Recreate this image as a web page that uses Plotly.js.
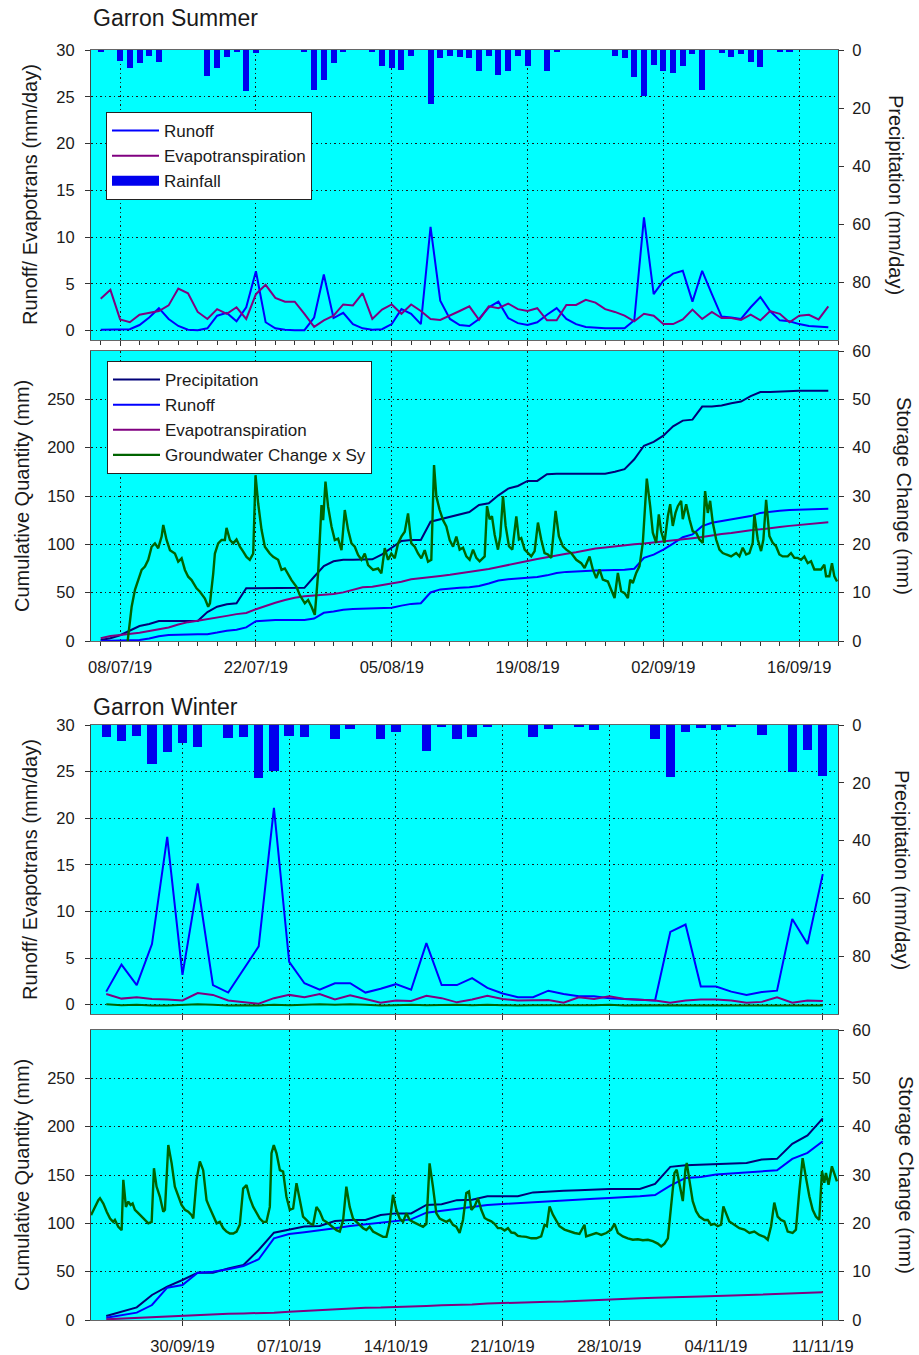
<!DOCTYPE html>
<html><head><meta charset="utf-8">
<script src="https://cdn.plot.ly/plotly-3.0.1.min.js"></script>
<style>html,body{margin:0;padding:0;background:#fff}#chart{width:919px;height:1355px}</style>
</head><body><div id="chart"></div>
<script>
// ---------------- SUMMER (daily values, first day 2019-07-06) ----------------
const summerFirstDay = '2019-07-06';
const summerRunoff = [0.1,0.1,0.1,0.15,0.6,1.4,2.4,1.25,0.5,0.1, 0.05,0.25,1.6,1.9,1.0,2.5,6.35,0.9,0.25,0.1, 0.05,0.05,1.4,6.0,1.35,1.9,0.7,0.25,0.1,0.15, 0.7,2.3,1.8,0.7,11.1,3.2,1.25,0.6,0.5,1.25, 2.5,3.1,1.35,0.8,0.6,0.9,1.7,2.4,1.25,0.7, 0.4,0.3,0.25,0.25,0.25,1.1,12.1,3.9,5.35,6.1, 6.4,3.1,6.4,3.9,1.5,1.4,1.25,2.5,3.6,2.1, 1.1,1.0,0.7,0.5,0.4,0.35];
const summerET = [3.4,4.36,1.2,0.9,1.7,1.9,2.1,2.7,4.5,4.0, 2.0,1.25,2.3,1.8,2.5,1.25,3.9,4.9,3.5,3.1, 3.1,1.8,0.4,1.1,1.6,2.8,2.7,4.0,1.25,2.25, 2.8,1.8,2.8,2.1,1.25,1.15,1.6,2.1,2.6,1.15, 2.6,2.4,2.9,2.3,2.1,2.4,1.1,1.1,2.75,2.75, 3.3,3.0,2.3,2.0,1.6,1.0,1.8,1.6,0.7,0.7, 1.2,2.25,1.25,2.0,1.35,1.35,1.15,1.7,1.1,2.1, 1.8,0.9,1.6,1.7,1.2,2.6];
const summerRain = [0.8,0,3.8,6.1,4.6,1.9,4.2,0,0,0, 0,8.8,6.3,2.5,0.8,14.3,0.9,0,0,0, 0,0.6,13.9,10.3,4.6,0.8,0,0,0.8,5.4, 6.1,6.9,2.1,0,18.6,2.9,2.1,2.5,2.6,7.1, 1.9,8.6,7.1,1.9,5.4,0,7.2,0.8,0,0, 0,0,0,1.9,2.6,9.4,16.0,5.1,7.2,8.0, 5.4,1.4,13.7,0,0.9,2.3,1.4,4.2,5.9,0, 0.8,0.8,0,0,0,0];
const summerCumPrecip = [1,2.8,6,11,15.5,17.6,20.7,20.7,20.7,20.7, 20.7,30,35.5,38,39,54.5,54.5,54.5,54.5,54.5, 54.5,55,66.5,77.6,82.5,84,84,84,84.5,89.7, 97,103.5,104.5,104.5,123.4,126,128,131,133.4,140.7, 142.4,150.7,157.7,160.4,165.6,165.6,172.5,173,173,173, 173,173,173,175,177.8,188,202,206,212.4,222, 228,229,242.5,242.5,243.6,246,247.7,253.3,257.5,257.5, 258,259,259,259,259,259];
const summerCumRunoff = [0.1,0.2,0.3,0.5,1.1,2.5,4.9,6.2,6.7,6.8, 6.9,7.1,8.7,10.6,11.6,14.1,20.5,21.4,21.6,21.7, 21.8,21.8,23.2,29.2,30.5,32.4,33.1,33.4,33.5,33.6, 34.3,36.6,38.4,39.1,50.2,53.4,54.6,55.2,55.6,56.9, 59.4,62.5,63.9,64.7,65.3,66.2,67.9,70.3,71.5,72.2, 72.6,72.9,73.2,73.4,73.7,74.8,86,89.4,94.6,100.8, 107.4,110.2,118.8,122.3,124,125.8,126.8,129.2,132.5,133.8, 134.8,135.5,136,136.4,136.7,136.9];
const summerCumET = [2.8,5.2,6.2,7.2,8.6,10.3,12,14,17,19.5, 21,22.5,24.5,26,27.8,29,32.8,36.5,39.5,42.4, 44.8,46.2,46.8,47.6,48.6,50.3,52.8,55.5,56.2,57.9, 59.7,61.4,63.8,65.2,66.4,67.3,68.5,70,71,73.2, 74.6,76.5,78.8,80.8,82.8,84.8,86.8,88.9,90.3,91.8, 93.8,95.6,96.8,98.1,99.1,100.2,100.8,101.8,102.9,104.5, 105.3,106.4,107.7,109.3,110.6,111.7,113.4,114.6,115.5,117, 118,119.1,120,121.2,122,122.8];
// groundwater change x Sy: time in days since 2019-07-05 00:00, value in mm
const summerGwBase = '2019-07-05';
const summerGwDays = [3.78,4.19,4.53,4.87,5.22,5.56,5.90,6.25,6.59,6.93,7.28,7.45,7.79,8.14,8.65,8.99,9.34,9.68,10.02,10.37,10.88,11.23,11.74,12.08,12.26,12.60,12.77,13.11,13.46,13.80,13.97,14.32,14.66,15.00,15.35,15.69,16.03,16.37,16.72,16.96,17.23,17.58,17.92,18.43,18.78,19.29,19.64,19.98,20.32,20.67,21.18,21.52,22.04,22.38,22.73,23.07,23.41,23.76,23.93,24.17,24.44,24.79,25.13,25.47,25.82,26.16,26.50,26.85,27.19,27.53,27.88,28.22,28.56,29.08,29.59,29.93,30.28,30.62,30.96,31.31,31.65,31.99,32.34,32.68,33.02,33.37,33.71,34.05,34.40,34.74,35.08,35.36,35.60,35.94,36.29,36.63,36.97,37.32,37.66,
 38.00,38.35,38.69,39.03,39.38,39.72,40.06,40.58,40.82,41.09,41.33,41.61,41.95,42.19,42.47,42.74,43.08,43.43,43.84,44.11,44.35,44.70,45.04,45.38,45.73,46.07,46.41,46.75,47.10,47.44,47.89,48.23,48.64,48.99,49.50,50.02,50.53,50.88,51.39,51.73,52.08,52.42,52.76,53.28,53.62,53.97,54.31,54.65,55.00,55.34,55.58,55.85,56.20,56.54,56.88,57.05,57.29,57.64,57.91,58.26,58.53,58.77,59.11,59.46,59.70,59.97,60.25,60.49,60.83,61.00,61.35,61.69,62.03,62.38,62.72,63.06,63.30,63.58,63.82,64.09,64.44,64.78,65.12,65.47,65.98,66.50,66.84,67.18,67.53,67.87,68.21,68.38,68.73,69.07,69.31,69.59,69.93,70.27,70.61,70.96,71.30,71.82,72.16,72.50,72.85,73.19,73.53,73.88,74.22,74.56,74.91,75.25,75.59,75.77,76.11,76.38,76.62,76.90];
const summerGw = [0,7.1,10.6,12.6,14.7,15.4,16.8,19.5,20.2,19.2,21.6,24.0,20.9,18.8,18.1,16.4,17.1,14.7,13.3,12.6,10.9,10.2,8.8,7.1,7.8,14,18.1,20.2,20.9,20.9,23.4,20.9,20.2,21.0,19.5,18.5,17.4,16.8,18.1,34.3,28.5,23.0,19.5,18.1,17.4,16.8,14.7,15.0,13.7,12.6,11.2,9.5,7.8,8.5,7.1,5.4,14,28.1,25.0,33.0,27.8,23.7,20.9,21.2,18.8,27.1,23.0,20.2,19.5,17.8,16.8,18.1,15.7,14.7,15.0,14.0,19.2,16.8,18.1,17.1,20.2,21.6,22.6,26.4,20.2,19.5,18.1,17.1,18.8,16.4,16.8,36.4,29.9,27.1,25.0,23.7,20.9,19.5,21.6,
 18.9,19.3,17.5,16.8,18.9,17.2,16.5,17.5,27.9,25.2,25.8,22.0,18.9,21.7,30.0,23.8,19.6,18.9,25.8,21.0,21.3,18.9,18.2,17.5,18.6,24.5,21.0,18.2,17.9,17.2,26.9,21.7,19.6,18.9,18.2,16.8,16.1,15.1,17.5,14.8,13.0,14.8,12.7,12.3,10.6,8.9,14.1,10.3,9.9,8.9,12.7,12.0,14.1,15.5,20.3,25.8,33.6,27.9,22.4,20.3,26.2,22.7,20.3,25.8,28.3,23.8,26.5,27.9,29.0,25.2,28.3,25.2,22.7,22.4,21.0,20.3,31.0,26.5,29.0,24.5,21.0,18.9,18.2,17.9,17.5,18.2,17.5,19.3,17.9,18.2,20.3,26.2,21.0,18.6,21.0,29.2,21.7,20.3,19.6,17.9,17.5,17.5,18.2,17.2,17.2,16.8,17.5,16.1,16.5,14.8,14.8,14.8,15.8,13.4,13.4,16.1,13.4,12.3];

// ---------------- WINTER (daily values, first day 2019-09-25) ----------------
const winterFirstDay = '2019-09-25';
const winterRunoff = [1.4,4.3,2.1,6.5,18.0,3.2,13.0,2.1,1.3,3.75, 6.25,21.1,4.6,2.3,1.6,2.3,2.3,1.3,1.7,2.2, 1.6,6.6,2.1,2.1,2.85,1.8,1.2,0.8,0.8,1.5, 1.15,0.9,0.9,0.7,0.6,0.55,0.45,7.8,8.6,1.95, 1.95,1.4,1.05,1.35,1.5,9.2,6.5,14.0];
const winterET = [1.15,0.65,0.8,0.6,0.55,0.45,1.25,1.05,0.45,0.3, 0.1,0.7,1.05,0.8,1.15,0.55,1.0,0.6,0.2,0.45, 0.4,0.95,0.7,0.25,0.55,0.95,0.6,0.45,0.45,0.5, 0.2,0.8,0.6,0.9,0.6,0.55,0.45,0.2,0.45,0.55, 0.55,0.45,0.2,0.3,0.8,0.2,0.45,0.4];
const winterGwDaily = [0.05,-0.05,0,-0.1,-0.1,0,0.05,0,-0.1,-0.05, -0.1,0,-0.05,0,0.05,0,0.05,0,-0.1,-0.05, 0,-0.05,0,0,-0.05,0,-0.05,-0.1,-0.05,-0.05, -0.1,-0.05,-0.05,0,-0.1,-0.05,-0.05,-0.1,-0.1,-0.05, -0.05,-0.05,-0.05,-0.05,-0.05,-0.1,-0.1,-0.1];
const winterRain = [4.0,5.7,3.8,13.4,9.5,6.3,7.7,0,4.6,4.2, 18.3,16.0,3.7,4.0,0,4.9,1.5,0,4.9,2.3, 0,9.1,0.6,4.9,4.0,0.6,0,0,4.2,1.4, 0,0.8,1.7,0,0,0,4.9,18.1,2.5,1.1, 1.7,0.6,0,3.4,0,16.3,8.6,17.5];
const winterCumPrecip = [4.1,8.6,13.1,25.9,34.5,41.4,49,49,53.4,56.9, 72.4,90.3,93.8,96.6,97.2,102.4,103.4,103.4,108.6,110.3, 110.3,119,119.7,124,124.5,128,128,128,132,133, 133.8,134.2,134.9,135.5,135.5,135.5,140.7,158.4,160.1,160.8, 161.8,162.5,162.5,166,166.7,182.2,190.9,208.5];
const winterCumRunoff = [2.4,5.2,7.6,15.5,33.4,36.2,49,50,52.4,55.9, 62.8,84.5,89,90.7,92.4,94.8,97.2,99,100.7,102.4, 104.1,111,113.1,115.5,117.6,119,120,121,121.7,122.8, 123.4,124.5,125.5,126.2,126.9,128,129.3,139,147,148, 150.4,151.5,152.1,153.2,154.9,166.7,172.9,185];
const winterCumET = [0.7,1.5,2.2,2.9,3.4,4.0,5.0,6.0,6.5,6.8, 7.0,7.6,8.6,9.4,10.5,11.1,12.1,12.7,12.9,13.3, 13.7,14.6,15.3,15.5,16.1,17.0,17.6,18.1,18.5,19.0, 19.2,20.0,20.6,21.5,22.1,22.6,23.1,23.3,23.7,24.3, 24.8,25.3,25.5,26.2,27.0,27.4,28.0,28.6];
const winterGwBase = '2019-09-24';
const winterGwDays = [0,0.26,0.48,0.59,0.81,1.03,1.25,1.46,1.57,1.79,2.01,2.12,2.29,2.45,2.60,2.73,2.88,3.10,3.32,3.54,3.76,3.98,4.13,4.30,4.52,4.74,4.85,5.07,5.29,5.50,5.72,5.94,6.16,6.38,6.60,6.71,6.92,7.14,7.36,7.58,7.80,8.02,8.24,8.45,8.67,8.89,9.11,9.33,9.55,9.76,9.98,10.20,10.42,10.64,10.86,11.07,11.29,11.51,11.73,11.84,11.99,12.17,12.39,12.60,12.82,13.04,13.26,13.48,13.70,13.91,14.13,14.35,14.57,14.79,15.01,15.23,15.44,15.66,15.88,16.10,16.32,16.54,16.75,16.97,17.19,17.41,17.63,17.85,18.06,18.28,18.50,18.72,18.94,19.16,19.38,19.59,19.81,20.03,20.25,20.47,20.69,20.90,21.12,21.34,21.56,21.78,22.00,22.21,22.43,22.65,22.87,23.09,23.31,23.53,23.74,23.96,
 24.18,24.40,24.62,24.79,24.95,25.16,25.38,25.60,25.82,26.04,26.26,26.47,26.69,26.91,27.13,27.35,27.57,27.79,28.00,28.22,28.55,28.88,29.21,29.53,29.75,29.90,30.08,30.30,30.52,30.73,31.06,31.39,31.72,32.04,32.37,32.48,32.81,33.14,33.47,33.80,34.12,34.34,34.56,34.89,35.21,35.54,35.87,36.20,36.53,36.85,37.18,37.40,37.62,37.84,38.05,38.27,38.42,38.60,38.82,38.99,39.08,39.25,39.47,39.69,39.91,40.24,40.46,40.67,40.89,41.11,41.33,41.48,41.66,41.87,42.20,42.53,42.86,43.19,43.51,43.84,44.17,44.39,44.61,44.82,45.04,45.26,45.48,45.70,46.02,46.24,46.46,46.68,46.90,47.12,47.34,47.55,47.77,47.95,48.10,48.21,48.38,48.60,48.75,48.93];
const winterGw = [21.7,23.4,24.8,25.2,24.1,22.4,21.0,20.3,20.7,19.3,18.6,29.0,23.4,24.5,23.8,24.1,22.8,22.1,21.4,20.7,20.0,20.3,31.4,27.6,25.5,22.4,22.8,36.2,32.4,27.6,25.5,23.8,22.8,22.4,21.7,21.0,29.0,32.8,31.0,24.8,23.1,21.7,20.0,20.3,19.0,18.3,17.9,17.9,18.3,19.7,27.2,27.9,25.2,23.4,22.1,21.0,20.3,20.3,23.4,34.5,36.2,34.5,31.0,30.7,25.5,22.8,23.1,28.3,24.8,21.4,20.7,20.0,19.7,23.4,22.4,20.7,20.3,19.7,19.3,18.6,18.3,20.7,27.6,23.4,21.0,20.3,19.7,19.0,18.6,19.3,18.3,17.9,17.6,17.2,17.2,20.0,25.9,22.8,21.0,20.3,22.1,20.7,20.3,20.0,19.7,19.3,19.9,32.4,27.6,22.1,21.0,20.7,20.3,20.7,19.7,19.3,
 18.0,20.7,26.3,26.6,22.8,23.5,25.2,22.8,21.1,20.7,20.4,19.9,19.0,19.0,18.5,19.0,18.1,18.0,17.4,17.3,17.2,16.9,16.9,17.3,19.7,19.4,23.5,21.8,20.4,19.4,18.7,18.3,18.0,17.8,19.7,17.3,17.6,18.0,17.6,18.0,18.7,19.9,18.0,17.3,16.9,16.6,16.7,16.5,16.6,16.3,15.8,15.2,15.8,16.9,23.5,30.4,31.1,28.4,24.6,31.1,32.5,29.0,24.6,22.5,21.4,20.7,20.7,19.7,19.9,19.4,19.7,23.5,22.1,20.4,19.7,19.0,18.7,18.0,18.3,17.6,17.2,16.6,19.4,24.3,21.4,20.7,20.4,18.3,18.0,18.7,26.6,33.5,29.4,25.6,22.8,21.4,20.7,30.8,28.4,30.4,28.0,31.8,30.4,28.7];

// ---------------- helpers ----------------
const DAY = 86400000;
function offsetDate(base, days) {
  const t = Date.parse(base + 'T00:00:00Z') + days * DAY;
  return new Date(Math.round(t / 60000) * 60000).toISOString().slice(0, 16).replace('T', ' ');
}
function dailyDates(first, n) { const a = []; for (let i = 0; i < n; i++) a.push(offsetDate(first, i)); return a; }
const sDates = dailyDates(summerFirstDay, summerRunoff.length);
const wDates = dailyDates(winterFirstDay, winterRunoff.length);
const sGwDates = summerGwDays.map(d => offsetDate(summerGwBase, d));
const wGwDates = winterGwDays.map(d => offsetDate(winterGwBase, d));

const C = {runoff:'#0000ff', et:'#800080', precip:'#000078', gw:'#006400', rain:'#0000ee', bg:'#00ffff'};
const FONT = 'Liberation Sans, Arial, sans-serif';
const TXT = '#1a1a1a';

function line(x, y, color, name, xa, ya, legend, show, w) {
  return {type:'scatter', mode:'lines', x, y, name, xaxis:xa, yaxis:ya, legend,
    showlegend:show, line:{color, width:w||2}, hoverinfo:'skip'};
}
function bars(x, y, name, xa, ya) {
  return {type:'bar', x, y, name, xaxis:xa, yaxis:ya, showlegend:false,
    width:0.62*DAY, marker:{color:C.rain, line:{width:0}}, hoverinfo:'skip'};
}
// legend-only key for the rainfall bars (drawn as a wide filled swatch like the original)
const rainKey = {type:'scatter', mode:'lines', x:[null], y:[null], name:'Rainfall', xaxis:'x', yaxis:'y2',
  legend:'legend', showlegend:true, line:{color:C.rain, width:12}, hoverinfo:'skip'};

const data = [
  line(sDates, summerRunoff, C.runoff, 'Runoff', 'x', 'y', 'legend', true),
  line(sDates, summerET, C.et, 'Evapotranspiration', 'x', 'y', 'legend', true),
  rainKey,
  bars(sDates, summerRain, 'Rainfall', 'x', 'y2'),
  line(sDates, summerCumPrecip, C.precip, 'Precipitation', 'x2', 'y3', 'legend2', true),
  line(sDates, summerCumRunoff, C.runoff, 'Runoff', 'x2', 'y3', 'legend2', true),
  line(sDates, summerCumET, C.et, 'Evapotranspiration', 'x2', 'y3', 'legend2', true),
  line(sGwDates, summerGw, C.gw, 'Groundwater Change x Sy', 'x2', 'y4', 'legend2', true, 2.4),
  line(wDates, winterRunoff, C.runoff, 'Runoff', 'x3', 'y5', 'legend', false),
  line(wDates, winterET, C.et, 'Evapotranspiration', 'x3', 'y5', 'legend', false),
  line(wDates, winterGwDaily, C.gw, 'Groundwater', 'x3', 'y5', 'legend', false),
  bars(wDates, winterRain, 'Rainfall', 'x3', 'y6'),
  line(wDates, winterCumPrecip, C.precip, 'Precipitation', 'x4', 'y7', 'legend', false),
  line(wDates, winterCumRunoff, C.runoff, 'Runoff', 'x4', 'y7', 'legend', false),
  line(wDates, winterCumET, C.et, 'Evapotranspiration', 'x4', 'y7', 'legend', false),
  line(wGwDates, winterGw, C.gw, 'Groundwater Change x Sy', 'x4', 'y8', 'legend', false, 2.4)
];

const tickfont = {family:FONT, size:16.5, color:TXT};
const GRID = {showgrid:true, gridcolor:'#1a1a1a', griddash:'1.5px,3px', gridwidth:1};
function xAxis(anchor, range, tick0, dtick, labels, minor, matches) {
  const a = Object.assign({type:'date', anchor, domain:[0,1], range, tick0, dtick:dtick*DAY,
    tickformat:'%d/%m/%y', showticklabels:labels, ticks:'outside', ticklen:5, tickcolor:'#333',
    tickfont, ticklabelstandoff:6,
    showline:true, mirror:true, linecolor:'#666', linewidth:1, zeroline:false, fixedrange:true}, GRID);
  if (minor) a.minor = {dtick:minor*DAY, tick0, ticks:'outside', ticklen:4, tickcolor:'#333', showgrid:false};
  if (matches) a.matches = matches;
  return a;
}
function yLeft(anchor, domain, range, tickvals) {
  return Object.assign({anchor, domain, range, tickvals, ticks:'outside', ticklen:5, tickcolor:'#333', tickfont,
    ticklabelstandoff:7,
    showline:true, linecolor:'#444', linewidth:1, zeroline:false, fixedrange:true}, GRID);
}
function yRight(anchor, overlaying, range, tickvals) {
  return {anchor, overlaying, side:'right', range, tickvals, ticks:'outside', ticklen:5, tickcolor:'#333', tickfont,
    ticklabelstandoff:5, showgrid:false, showline:true, linecolor:'#444', linewidth:1, zeroline:false, fixedrange:true};
}
const H = 1355, T = 50, B = 35, L = 91, R = 81;
const PH = H - T - B, PW = 919 - L - R;
const py = p => 1 - (p - T) / PH;   // pixel row -> paper y
const px = p => (p - L) / PW;       // pixel col -> paper x

const sumRange = ['2019-07-05', '2019-09-20'];
const winRange = ['2019-09-24', '2019-11-12'];

function ann(text, xp, yp, angle, size, xanchor) {
  return {text, x:px(xp), y:py(yp), xref:'paper', yref:'paper', showarrow:false, textangle:angle,
    xanchor:xanchor||'center', yanchor:'middle', font:{family:FONT, size, color:TXT}};
}
const legendStyle = {xanchor:'left', yanchor:'top', bgcolor:'#ffffff', bordercolor:'#222', borderwidth:1,
  font:{family:FONT, size:17, color:TXT}, itemwidth:47, tracegroupgap:0};

const layout = {
  width:919, height:H, margin:{l:L, r:R, t:T, b:B}, paper_bgcolor:'#ffffff', plot_bgcolor:C.bg,
  font:{family:FONT, color:TXT}, bargap:0, barmode:'overlay',
  xaxis: xAxis('y', sumRange, '2019-07-08', 14, false, 2),
  xaxis2: xAxis('y3', sumRange, '2019-07-08', 14, true, 2, 'x'),
  xaxis3: xAxis('y5', winRange, '2019-09-30', 7, false, 0),
  xaxis4: xAxis('y7', winRange, '2019-09-30', 7, true, 0, 'x3'),
  yaxis: yLeft('x', [py(340), py(50)], [-1, 30], [0,5,10,15,20,25,30]),
  yaxis2: yRight('x', 'y', [100, 0], [0,20,40,60,80]),
  yaxis3: yLeft('x2', [py(641), py(351)], [0, 300], [0,50,100,150,200,250]),
  yaxis4: yRight('x2', 'y3', [0, 60], [0,10,20,30,40,50,60]),
  yaxis5: yLeft('x3', [py(1014), py(725)], [-1, 30], [0,5,10,15,20,25,30]),
  yaxis6: yRight('x3', 'y5', [100, 0], [0,20,40,60,80]),
  yaxis7: yLeft('x4', [py(1320), py(1030)], [0, 300], [0,50,100,150,200,250]),
  yaxis8: yRight('x4', 'y7', [0, 60], [0,10,20,30,40,50,60]),
  legend: Object.assign({x:px(106), y:py(112)}, legendStyle),
  legend2: Object.assign({x:px(107), y:py(361)}, legendStyle),
  annotations: [
    ann('Garron Summer', 91, 18, 0, 23, 'left'),
    ann('Garron Winter', 91, 707, 0, 23, 'left'),
    ann('Runoff/ Evapotrans (mm/day)', 30, 195, -90, 20),
    ann('Cumulative Quantity (mm)', 22, 496, -90, 20),
    ann('Runoff/ Evapotrans (mm/day)', 30, 870, -90, 20),
    ann('Cumulative Quantity (mm)', 22, 1175, -90, 20),
    ann('Precipitation (mm/day)', 896, 195, 90, 20),
    ann('Storage Change (mm)', 904, 496, 90, 20),
    ann('Precipitation (mm/day)', 902, 870, 90, 20),
    ann('Storage Change (mm)', 906, 1175, 90, 20)
  ]
};

Plotly.newPlot('chart', data, layout, {staticPlot:true, displayModeBar:false});
</script>
</body></html>
